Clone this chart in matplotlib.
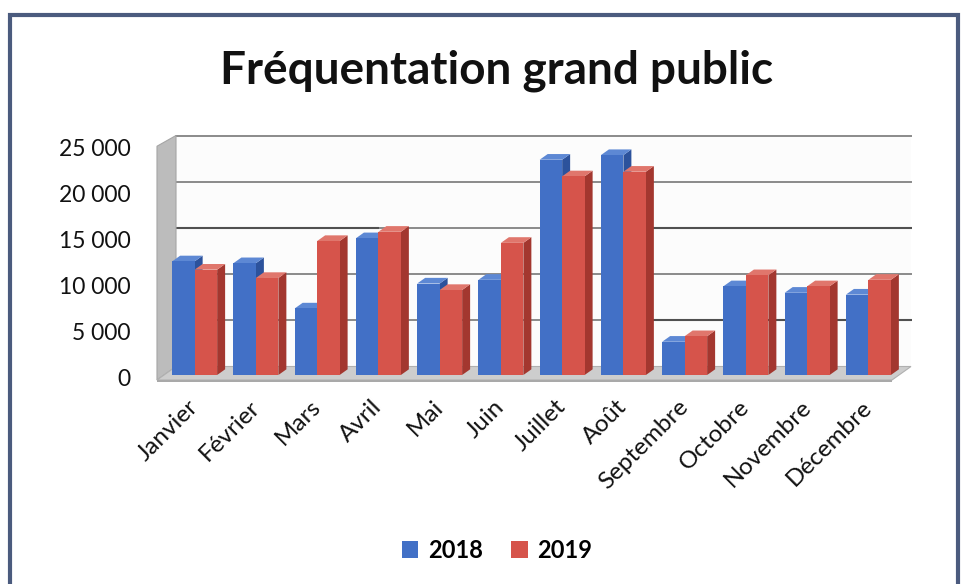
import numpy as np
import matplotlib
matplotlib.use('Agg')
import matplotlib.pyplot as plt
from matplotlib.patches import Polygon, Patch, Rectangle

mois = ['Janvier', 'Février', 'Mars', 'Avril', 'Mai', 'Juin', 'Juillet',
        'Août', 'Septembre', 'Octobre', 'Novembre', 'Décembre']
v2018 = [12300, 12100, 7200, 14800, 9900, 10300, 23300, 23800, 3600, 9600, 8900, 8700]
v2019 = [11400, 10500, 14500, 15500, 9200, 14300, 21500, 22000, 4200, 10800, 9600, 10300]
yticks = [0, 5000, 10000, 15000, 20000, 25000]
ytick_labels = ['0', '5 000', '10 000', '15 000', '20 000', '25 000']
series = ['2018', '2019']

plt.rcParams['font.family'] = ['Lato', 'DejaVu Sans']

W, H = 965, 584
fig = plt.figure(figsize=(W / 100, H / 100), dpi=100)
fig.patch.set_facecolor('white')

# pixel geometry of the pseudo 3D box
px_x = 61.25      # pixels per category
px_y = 0.00924    # pixels per visitor
ax = fig.add_axes([157 / W, (H - 380) / H, (912 - 157) / W, (380 - 130) / H])
ax.set_xlim(-0.5, -0.5 + (912 - 157) / px_x)
ax.set_ylim(0, (380 - 130) / px_y)
ax.axis('off')

DX = 19 / px_x    # depth of floor / walls
DY = 13.5 / px_y
n = len(mois)
x_end = n - 0.5

# back wall + grid
ax.add_patch(Rectangle((-0.5 + DX, DY), n, 25000, facecolor='#fcfcfc',
                       edgecolor='none', zorder=0))
for t in yticks[1:]:
    ax.plot([-0.5 + DX, x_end + DX], [t + DY, t + DY], color='#8a8a8a', lw=1.4, zorder=1)
# darker pieces of the scanned grid
ax.plot([-0.5 + DX, 3.1], [15000 + DY] * 2, color='#505050', lw=1.5, zorder=1)
ax.plot([7.6, x_end + DX], [15000 + DY] * 2, color='#505050', lw=1.5, zorder=1)
ax.plot([7.6, x_end + DX], [5000 + DY] * 2, color='#505050', lw=1.5, zorder=1)

# left wall
ax.add_patch(Polygon([(-0.5, 0), (-0.5, 25000 + 300), (-0.5 + DX, 25000 + DY),
                      (-0.5 + DX, DY)], closed=True, facecolor='#bcbcbc',
                     edgecolor='#a5a5a5', lw=0.8, zorder=2, clip_on=False))
# floor
ax.add_patch(Polygon([(-0.5, 0), (x_end, 0), (x_end + DX, DY), (-0.5 + DX, DY)],
                     closed=True, facecolor='#cdcdcd', edgecolor='#b0b0b0',
                     lw=0.8, zorder=2, clip_on=False))
ax.add_patch(Rectangle((-0.5, -250), n, 250, facecolor='#a9a9a9', edgecolor='none',
                       zorder=2, clip_on=False))

# bars
w = 0.367
f0, f1 = 0.37, 0.79
colors = [('#4270c6', '#2c529c', '#5d88d4'), ('#d6544b', '#a3372f', '#e0766c')]


def bar3d(x0, v, cols, z):
    front, side, top = cols
    ax0, ay0 = x0 + f0 * DX, f0 * DY
    ax1, ay1 = x0 + f1 * DX, f1 * DY
    ax.add_patch(Polygon([(ax0 + w, ay0), (ax1 + w, ay1), (ax1 + w, v + ay1), (ax0 + w, v + ay0)],
                         closed=True, facecolor=side, edgecolor='none', zorder=z, clip_on=False))
    ax.add_patch(Polygon([(ax0, v + ay0), (ax0 + w, v + ay0), (ax1 + w, v + ay1), (ax1, v + ay1)],
                         closed=True, facecolor=top, edgecolor='none', zorder=z, clip_on=False))
    ax.add_patch(Rectangle((ax0, ay0), w, v, facecolor=front, edgecolor='none',
                           zorder=z, clip_on=False))


for i in range(n):
    bar3d(i - w, v2018[i], colors[0], 3 + 2 * i)
    bar3d(i, v2019[i], colors[1], 4 + 2 * i)

# axis labels
for t, lab in zip(yticks, ytick_labels):
    fig.text(131 / W, 1 - (380 - t * px_y) / H, lab, ha='right', va='center',
             fontsize=16.5, color='#111111')
for i, m in enumerate(mois):
    ax.annotate(m, (i + 0.12, 0), xytext=(0, -17), textcoords='offset points',
                rotation=45, ha='right', va='center', rotation_mode='anchor',
                fontsize=17.5, color='#111111', annotation_clip=False)

fig.text(497 / W, 1 - 71 / H, 'Fréquentation grand public', ha='center', va='center',
         fontsize=33, fontweight='bold', color='#111111')

handles = [Patch(facecolor=colors[0][0], edgecolor='none'),
           Patch(facecolor=colors[1][0], edgecolor='none')]
fig.legend(handles, series, loc='center', bbox_to_anchor=(497 / W, 1 - 550 / H),
           ncol=2, frameon=False, handlelength=0.7, handleheight=0.7,
           handletextpad=0.4, columnspacing=1.2, prop={'weight': 'bold', 'size': 17})

# outer frame
fig.add_artist(Rectangle((10 / W, -0.02), 948 / W, 1 - 15 / H + 0.02,
                         transform=fig.transFigure, facecolor='none',
                         edgecolor='#4b5b7e', lw=3))

fig.savefig('out.png', dpi=100)
